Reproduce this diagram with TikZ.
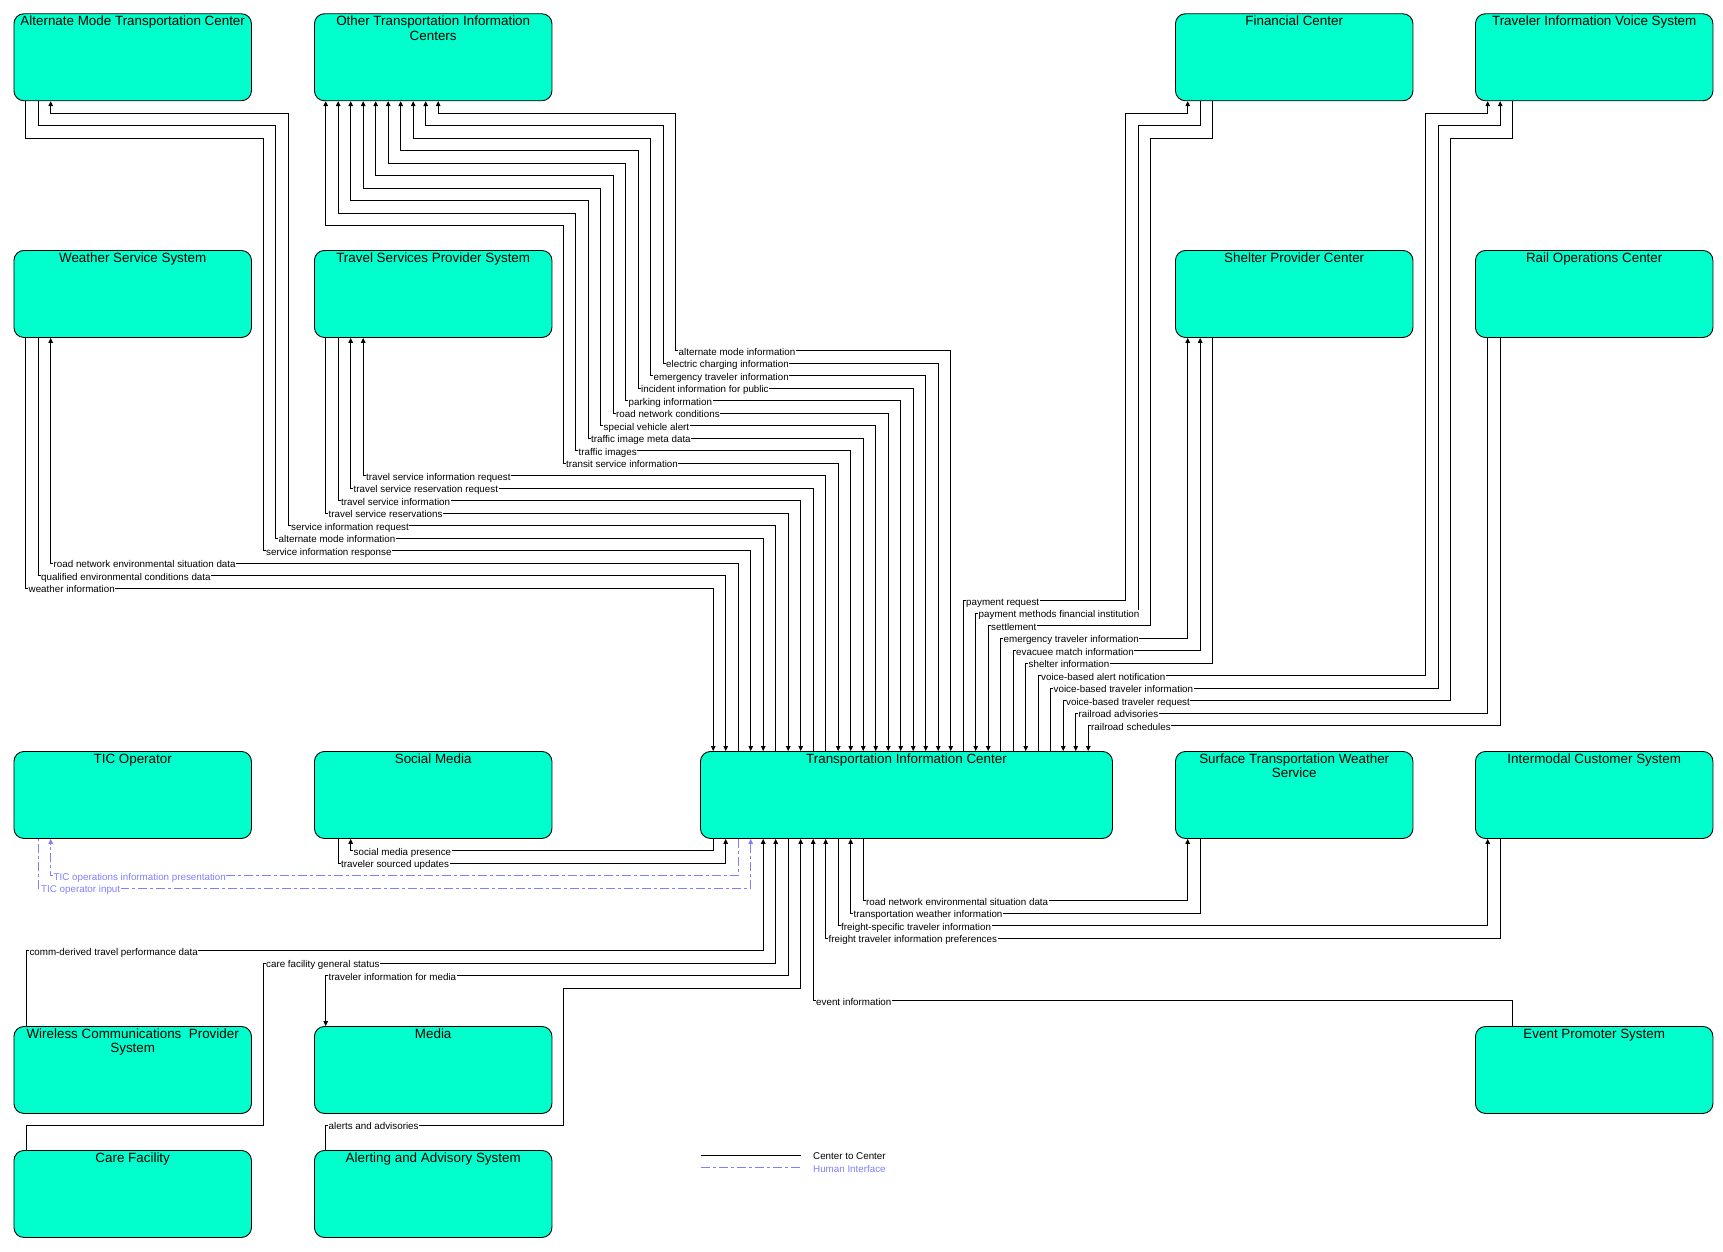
\documentclass[tikz,border=0pt]{standalone}
\usepackage{fontspec}
\setmainfont{Liberation Sans}
\usetikzlibrary{arrows.meta}
\definecolor{boxfill}{RGB}{0,255,204}
\definecolor{hiblue}{RGB}{128,128,255}
\begin{document}
\begin{tikzpicture}[x=1pt,y=-1pt,
  >={Triangle[length=5pt,width=4.6pt]},
  box/.style={draw=black, line width=0.9pt, fill=boxfill, rounded corners=10pt, minimum width=237.5pt, minimum height=87pt, anchor=north west, inner sep=0pt},
  ttl/.style={anchor=north, inner sep=0pt, align=center, font=\fontsize{13.4}{14.3}\selectfont, yshift=-2.5pt},
  cc/.style={draw=black, line width=0.9pt},
  hi/.style={draw=hiblue, line width=0.9pt, dash pattern=on 9pt off 3pt on 3pt off 3pt},
  lbl/.style={anchor=west, fill=white, inner sep=0.6pt, font=\fontsize{9.8}{11}\selectfont, text height=7pt, text depth=2pt, xshift=2.2pt, yshift=-2pt},
  hlbl/.style={lbl, text=hiblue},
  leg/.style={anchor=west, inner sep=0pt, font=\fontsize{9.8}{11}\selectfont},
]
\fill[white] (0,0) rectangle (1723,1251);
\useasboundingbox (0,0) rectangle (1723,1251);

% ---------- boxes ----------
\node[box] (amtc) at (13.5,13.3) {};
\node[box] (otic) at (314,13.3) {};
\node[box] (fin) at (1175,13.3) {};
\node[box] (tivs) at (1475,13.3) {};
\node[box] (wss) at (13.5,250) {};
\node[box] (tsps) at (314,250) {};
\node[box] (spc) at (1175,250) {};
\node[box] (roc) at (1475,250) {};
\node[box] (tico) at (13.5,751) {};
\node[box] (sm) at (314,751) {};
\node[box, minimum width=412pt] (tic) at (700,751) {};
\node[box] (stws) at (1175,751) {};
\node[box] (ics) at (1475,751) {};
\node[box] (wcp) at (13.5,1026) {};
\node[box] (media) at (314,1026) {};
\node[box] (eps) at (1475,1026) {};
\node[box] (care) at (13.5,1150) {};
\node[box] (aas) at (314,1150) {};

\node[ttl] at (amtc.north) {Alternate Mode Transportation Center};
\node[ttl] at (otic.north) {Other Transportation Information\\Centers};
\node[ttl] at (fin.north) {Financial Center};
\node[ttl] at (tivs.north) {Traveler Information Voice System};
\node[ttl] at (wss.north) {Weather Service System};
\node[ttl] at (tsps.north) {Travel Services Provider System};
\node[ttl] at (spc.north) {Shelter Provider Center};
\node[ttl] at (roc.north) {Rail Operations Center};
\node[ttl] at (tico.north) {TIC Operator};
\node[ttl] at (sm.north) {Social Media};
\node[ttl] at (tic.north) {Transportation Information Center};
\node[ttl] at (stws.north) {Surface Transportation Weather\\Service};
\node[ttl] at (ics.north) {Intermodal Customer System};
\node[ttl] at (wcp.north) {Wireless Communications\ \ Provider\\System};
\node[ttl] at (media.north) {Media};
\node[ttl] at (eps.north) {Event Promoter System};
\node[ttl] at (care.north) {Care Facility};
\node[ttl] at (aas.north) {Alerting and Advisory System};

% ---------- Other Transportation Information Centers ----------
\draw[cc,<->] (950.7,0 |- tic.north) -- (950.7,350.7) -- (675.7,350.7) -- (675.7,113.2) -- (438.2,113.2) -- (438.2,0 |- otic.south);
\draw[cc,<->] (938.2,0 |- tic.north) -- (938.2,363.2) -- (663.2,363.2) -- (663.2,125.7) -- (425.7,125.7) -- (425.7,0 |- otic.south);
\draw[cc,<->] (925.7,0 |- tic.north) -- (925.7,375.7) -- (650.7,375.7) -- (650.7,138.2) -- (413.2,138.2) -- (413.2,0 |- otic.south);
\draw[cc,<->] (913.2,0 |- tic.north) -- (913.2,388.2) -- (638.2,388.2) -- (638.2,150.7) -- (400.7,150.7) -- (400.7,0 |- otic.south);
\draw[cc,<->] (900.7,0 |- tic.north) -- (900.7,400.7) -- (625.7,400.7) -- (625.7,163.2) -- (388.2,163.2) -- (388.2,0 |- otic.south);
\draw[cc,<->] (888.2,0 |- tic.north) -- (888.2,413.2) -- (613.2,413.2) -- (613.2,175.7) -- (375.7,175.7) -- (375.7,0 |- otic.south);
\draw[cc,<->] (875.7,0 |- tic.north) -- (875.7,425.7) -- (600.7,425.7) -- (600.7,188.2) -- (363.2,188.2) -- (363.2,0 |- otic.south);
\draw[cc,<->] (863.2,0 |- tic.north) -- (863.2,438.2) -- (588.2,438.2) -- (588.2,200.7) -- (350.7,200.7) -- (350.7,0 |- otic.south);
\draw[cc,<->] (850.7,0 |- tic.north) -- (850.7,450.7) -- (575.7,450.7) -- (575.7,213.2) -- (338.2,213.2) -- (338.2,0 |- otic.south);
\draw[cc,<->] (838.2,0 |- tic.north) -- (838.2,463.2) -- (563.2,463.2) -- (563.2,225.7) -- (325.7,225.7) -- (325.7,0 |- otic.south);
\node[lbl] at (675.7,350.7) {alternate mode information};
\node[lbl] at (663.2,363.2) {electric charging information};
\node[lbl] at (650.7,375.7) {emergency traveler information};
\node[lbl] at (638.2,388.2) {incident information for public};
\node[lbl] at (625.7,400.7) {parking information};
\node[lbl] at (613.2,413.2) {road network conditions};
\node[lbl] at (600.7,425.7) {special vehicle alert};
\node[lbl] at (588.2,438.2) {traffic image meta data};
\node[lbl] at (575.7,450.7) {traffic images};
\node[lbl] at (563.2,463.2) {transit service information};

% ---------- Travel Services Provider System ----------
\draw[cc,->] (825.7,0 |- tic.north) -- (825.7,475.7) -- (363.2,475.7) -- (363.2,0 |- tsps.south);
\draw[cc,->] (813.2,0 |- tic.north) -- (813.2,488.2) -- (350.7,488.2) -- (350.7,0 |- tsps.south);
\draw[cc,<-] (800.7,0 |- tic.north) -- (800.7,500.7) -- (338.2,500.7) -- (338.2,0 |- tsps.south);
\draw[cc,<-] (788.2,0 |- tic.north) -- (788.2,513.2) -- (325.7,513.2) -- (325.7,0 |- tsps.south);
\node[lbl] at (363.2,475.7) {travel service information request};
\node[lbl] at (350.7,488.2) {travel service reservation request};
\node[lbl] at (338.2,500.7) {travel service information};
\node[lbl] at (325.7,513.2) {travel service reservations};

% ---------- Alternate Mode Transportation Center ----------
\draw[cc,->] (775.7,0 |- tic.north) -- (775.7,525.7) -- (288.2,525.7) -- (288.2,113.2) -- (50.7,113.2) -- (50.7,0 |- amtc.south);
\draw[cc,<-] (763.2,0 |- tic.north) -- (763.2,538.2) -- (275.7,538.2) -- (275.7,125.7) -- (38.2,125.7) -- (38.2,0 |- amtc.south);
\draw[cc,<-] (750.7,0 |- tic.north) -- (750.7,550.7) -- (263.2,550.7) -- (263.2,138.2) -- (25.7,138.2) -- (25.7,0 |- amtc.south);
\node[lbl] at (288.2,525.7) {service information request};
\node[lbl] at (275.7,538.2) {alternate mode information};
\node[lbl] at (263.2,550.7) {service information response};

% ---------- Weather Service System ----------
\draw[cc,->] (738.2,0 |- tic.north) -- (738.2,563.2) -- (50.7,563.2) -- (50.7,0 |- wss.south);
\draw[cc,<-] (725.7,0 |- tic.north) -- (725.7,575.7) -- (38.2,575.7) -- (38.2,0 |- wss.south);
\draw[cc,<-] (713.2,0 |- tic.north) -- (713.2,588.2) -- (25.7,588.2) -- (25.7,0 |- wss.south);
\node[lbl] at (50.7,563.2) {road network environmental situation data};
\node[lbl] at (38.2,575.7) {qualified environmental conditions data};
\node[lbl] at (25.7,588.2) {weather information};

% ---------- Financial / Shelter / Voice / Rail ----------
\draw[cc,->] (963.2,0 |- tic.north) -- (963.2,600.7) -- (1125.7,600.7) -- (1125.7,113.2) -- (1187.7,113.2) -- (1187.7,0 |- fin.south);
\draw[cc,<-] (975.7,0 |- tic.north) -- (975.7,613.2) -- (1138.2,613.2) -- (1138.2,125.7) -- (1200.2,125.7) -- (1200.2,0 |- fin.south);
\draw[cc,<-] (988.2,0 |- tic.north) -- (988.2,625.7) -- (1150.7,625.7) -- (1150.7,138.2) -- (1212.7,138.2) -- (1212.7,0 |- fin.south);
\draw[cc,->] (1000.7,0 |- tic.north) -- (1000.7,638.2) -- (1187.7,638.2) -- (1187.7,0 |- spc.south);
\draw[cc,->] (1013.2,0 |- tic.north) -- (1013.2,650.7) -- (1200.2,650.7) -- (1200.2,0 |- spc.south);
\draw[cc,<-] (1025.7,0 |- tic.north) -- (1025.7,663.2) -- (1212.7,663.2) -- (1212.7,0 |- spc.south);
\draw[cc,->] (1038.2,0 |- tic.north) -- (1038.2,675.7) -- (1425.7,675.7) -- (1425.7,113.2) -- (1487.7,113.2) -- (1487.7,0 |- tivs.south);
\draw[cc,->] (1050.7,0 |- tic.north) -- (1050.7,688.2) -- (1438.2,688.2) -- (1438.2,125.7) -- (1500.2,125.7) -- (1500.2,0 |- tivs.south);
\draw[cc,<-] (1063.2,0 |- tic.north) -- (1063.2,700.7) -- (1450.7,700.7) -- (1450.7,138.2) -- (1512.7,138.2) -- (1512.7,0 |- tivs.south);
\draw[cc,<-] (1075.7,0 |- tic.north) -- (1075.7,713.2) -- (1487.7,713.2) -- (1487.7,0 |- roc.south);
\draw[cc,<-] (1088.2,0 |- tic.north) -- (1088.2,725.7) -- (1500.2,725.7) -- (1500.2,0 |- roc.south);
\node[lbl] at (963.2,600.7) {payment request};
\node[lbl] at (975.7,613.2) {payment methods financial institution};
\node[lbl] at (988.2,625.7) {settlement};
\node[lbl] at (1000.7,638.2) {emergency traveler information};
\node[lbl] at (1013.2,650.7) {evacuee match information};
\node[lbl] at (1025.7,663.2) {shelter information};
\node[lbl] at (1038.2,675.7) {voice-based alert notification};
\node[lbl] at (1050.7,688.2) {voice-based traveler information};
\node[lbl] at (1063.2,700.7) {voice-based traveler request};
\node[lbl] at (1075.7,713.2) {railroad advisories};
\node[lbl] at (1088.2,725.7) {railroad schedules};

% ---------- below the TIC ----------
\draw[cc,->] (713.2,0 |- tic.south) -- (713.2,850.7) -- (350.7,850.7) -- (350.7,0 |- sm.south);
\draw[cc,<-] (725.7,0 |- tic.south) -- (725.7,863.2) -- (338.2,863.2) -- (338.2,0 |- sm.south);
\draw[hi,->] (738.2,0 |- tic.south) -- (738.2,875.7) -- (50.7,875.7) -- (50.7,0 |- tico.south);
\draw[hi,<-] (750.7,0 |- tic.south) -- (750.7,888.2) -- (38.2,888.2) -- (38.2,0 |- tico.south);
\draw[cc,<-] (763.2,0 |- tic.south) -- (763.2,950.7) -- (26.5,950.7) -- (26.5,0 |- wcp.north);
\draw[cc,<-] (775.7,0 |- tic.south) -- (775.7,963.2) -- (263.2,963.2) -- (263.2,1125.2) -- (26.5,1125.2) -- (26.5,0 |- care.north);
\draw[cc,->] (788.2,0 |- tic.south) -- (788.2,975.7) -- (325.7,975.7) -- (325.7,0 |- media.north);
\draw[cc,<-] (800.7,0 |- tic.south) -- (800.7,988.2) -- (563.2,988.2) -- (563.2,1125.2) -- (325.7,1125.2) -- (325.7,0 |- aas.north);
\draw[cc,<-] (813.2,0 |- tic.south) -- (813.2,1000.7) -- (1512.7,1000.7) -- (1512.7,0 |- eps.north);
\draw[cc,<-] (825.7,0 |- tic.south) -- (825.7,938.2) -- (1500.2,938.2) -- (1500.2,0 |- ics.south);
\draw[cc,->] (838.2,0 |- tic.south) -- (838.2,925.7) -- (1487.7,925.7) -- (1487.7,0 |- ics.south);
\draw[cc,<-] (850.7,0 |- tic.south) -- (850.7,913.2) -- (1200.2,913.2) -- (1200.2,0 |- stws.south);
\draw[cc,->] (863.2,0 |- tic.south) -- (863.2,900.7) -- (1187.7,900.7) -- (1187.7,0 |- stws.south);
\node[lbl] at (350.7,850.7) {social media presence};
\node[lbl] at (338.2,863.2) {traveler sourced updates};
\node[hlbl] at (50.7,875.7) {TIC operations information presentation};
\node[hlbl] at (38.2,888.2) {TIC operator input};
\node[lbl] at (26.5,950.7) {comm-derived travel performance data};
\node[lbl] at (263.2,963.2) {care facility general status};
\node[lbl] at (325.7,975.7) {traveler information for media};
\node[lbl] at (325.7,1125.2) {alerts and advisories};
\node[lbl] at (813.2,1000.7) {event information};
\node[lbl] at (825.7,938.2) {freight traveler information preferences};
\node[lbl] at (838.2,925.7) {freight-specific traveler information};
\node[lbl] at (850.7,913.2) {transportation weather information};
\node[lbl] at (863.2,900.7) {road network environmental situation data};

% ---------- legend ----------
\coordinate (lega) at (700.7,1155);
\coordinate (legb) at (800.7,1155);
\coordinate (legc) at (700.7,1167.3);
\coordinate (legd) at (800.7,1167.3);
\draw[cc] (lega) -- (legb);
\draw[hi] (legc) -- (legd);
\node[leg] (legt1) at (813,1156.5) {Center to Center};
\node[leg, text=hiblue] (legt2) at (813,1169) {Human Interface};
\end{tikzpicture}
\end{document}
